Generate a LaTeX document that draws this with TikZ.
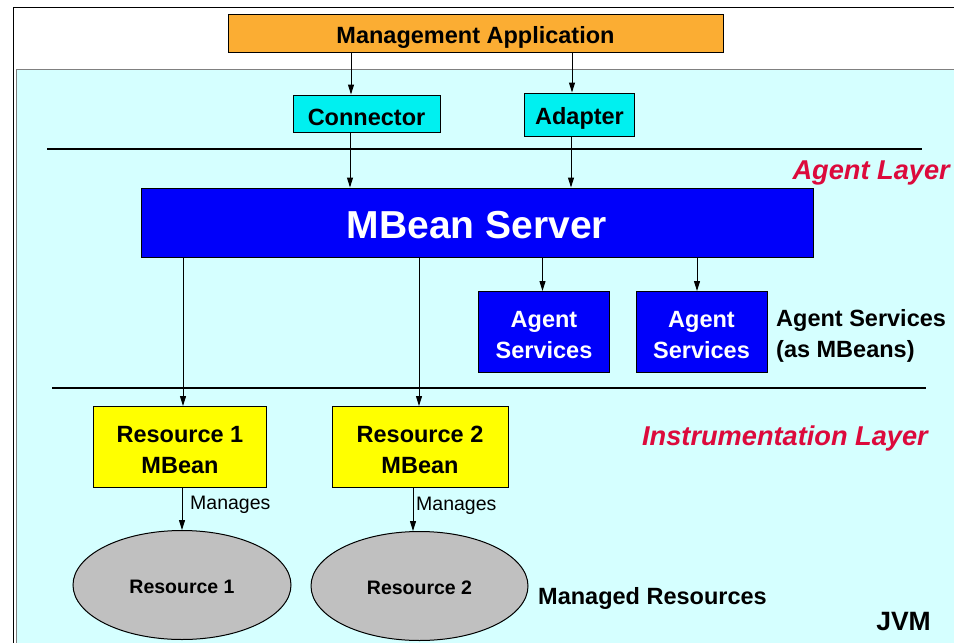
\documentclass[tikz,border=0pt]{standalone}
\usepackage{fontspec}
\setmainfont{Liberation Sans}
\usetikzlibrary{arrows.meta,shapes.geometric}
\definecolor{jvmfill}{RGB}{213,255,255}
\definecolor{appfill}{RGB}{251,173,51}
\definecolor{cyanfill}{RGB}{0,240,240}
\definecolor{bluefill}{RGB}{0,0,250}
\definecolor{yelfill}{RGB}{255,255,0}
\definecolor{resfill}{RGB}{192,192,192}
\definecolor{layerred}{RGB}{220,10,60}
\newcommand{\lowA}{\rule{0pt}{25pt}}
\newcommand{\lowB}{\rule{0pt}{22pt}}
\tikzset{
  box/.style={draw=black, line width=1pt, inner sep=0pt, align=center},
  lbl/.style={font=\fontsize{23.5}{30.5}\selectfont\bfseries},
  arr/.style={draw=black, line width=1pt, -{Triangle[length=10pt,width=6pt]}},
  sep/.style={draw=black, line width=2.5pt},
  layer/.style={text=layerred, font=\fontsize{27.2}{30}\selectfont\bfseries\itshape, inner sep=0pt},
  manages/.style={font=\fontsize{19.5}{24}\selectfont, inner sep=0pt, anchor=west},
  res/.style={draw=black, line width=1pt, ellipse, fill=resfill, inner sep=0pt, font=\fontsize{19.5}{24}\selectfont\bfseries}
}
\begin{document}
\begin{tikzpicture}[x=1pt,y=-1pt]
\useasboundingbox (0,0) rectangle (954,643);
\clip (0,0) rectangle (954,643);
\fill[white] (0,0) rectangle (954,643);
% outer frame
\draw[black, line width=1pt] (13,660) -- (13,7) -- (970,7);
% JVM area
\draw[draw=gray, line width=1pt, fill=jvmfill] (16,69) rectangle (975,660);

% separators
\draw[sep] (47,149) -- (922,149);
\draw[sep] (52,388) -- (926,388);

% boxes
\node[box, lbl, fill=appfill, minimum width=495pt, minimum height=38pt] (app) at (475.5,33) {\lowA Management Application};
\node[box, lbl, fill=cyanfill, minimum width=147pt, minimum height=37pt] (conn) at (366.5,113.5) {\lowA Connector};
\node[box, lbl, fill=cyanfill, minimum width=110pt, minimum height=43pt] (adapt) at (579.5,114.5) {\lowA Adapter};
\node[box, fill=bluefill, text=white, font=\fontsize{39}{41}\selectfont\bfseries, minimum width=672pt, minimum height=69pt] (mbs) at (477,222.5) {\rule{0pt}{32.5pt}MBean Server};
\node[box, lbl, fill=bluefill, text=white, minimum width=131pt, minimum height=81pt] (as1) at (544,332) {\lowB Agent\\Services};
\node[box, lbl, fill=bluefill, text=white, minimum width=131pt, minimum height=81pt] (as2) at (701.5,332) {\lowB Agent\\Services};
\node[box, lbl, fill=yelfill, minimum width=173pt, minimum height=81pt] (r1mb) at (180,447) {\lowB Resource 1\\MBean};
\node[box, lbl, fill=yelfill, minimum width=176pt, minimum height=81pt] (r2mb) at (420,447) {\lowB Resource 2\\MBean};
\node[res, minimum width=218pt, minimum height=109pt] (res1) at (182,585) {\rule{0pt}{17.5pt}Resource 1};
\node[res, minimum width=217pt, minimum height=109pt] (res2) at (419.5,586) {\rule{0pt}{17.5pt}Resource 2};

% free labels
\node[layer, anchor=east] (agentlayer) at (950,173) {Agent Layer};
\node[layer, anchor=east] (instlayer) at (928,438.5) {Instrumentation Layer};
\node[lbl, anchor=west, align=left, inner sep=0pt] (asl) at (776,336) {Agent Services\\(as MBeans)};
\node[lbl, anchor=west, inner sep=0pt] (mres) at (538,598) {Managed Resources};
\node[font=\fontsize{26.5}{30}\selectfont\bfseries, anchor=east, inner sep=0pt] (jvm) at (931,622) {JVM};

% connectors
\draw[arr] (app.south -| 351,0) -- (conn.north -| 351,0);
\draw[arr] (app.south -| 572,0) -- (adapt.north -| 572,0);
\draw[arr] (conn.south -| 350,0) -- (mbs.north -| 350,0);
\draw[arr] (adapt.south -| 571,0) -- (mbs.north -| 571,0);
\draw[arr] (mbs.south -| 542.5,0) -- (as1.north -| 542.5,0);
\draw[arr] (mbs.south -| 697,0) -- (as2.north -| 697,0);
\draw[arr] (mbs.south -| 183,0) -- (r1mb.north -| 183,0);
\draw[arr] (mbs.south -| 419,0) -- (r2mb.north -| 419,0);
\draw[arr] (r1mb.south -| 182,0) -- (res1.north -| 182,0);
\draw[arr] (r2mb.south -| 413,0) -- (res2.north -| 413,0);
\node[manages] (m1) at (190,504.5) {Manages};
\node[manages] (m2) at (416,505.5) {Manages};
\end{tikzpicture}
\end{document}
